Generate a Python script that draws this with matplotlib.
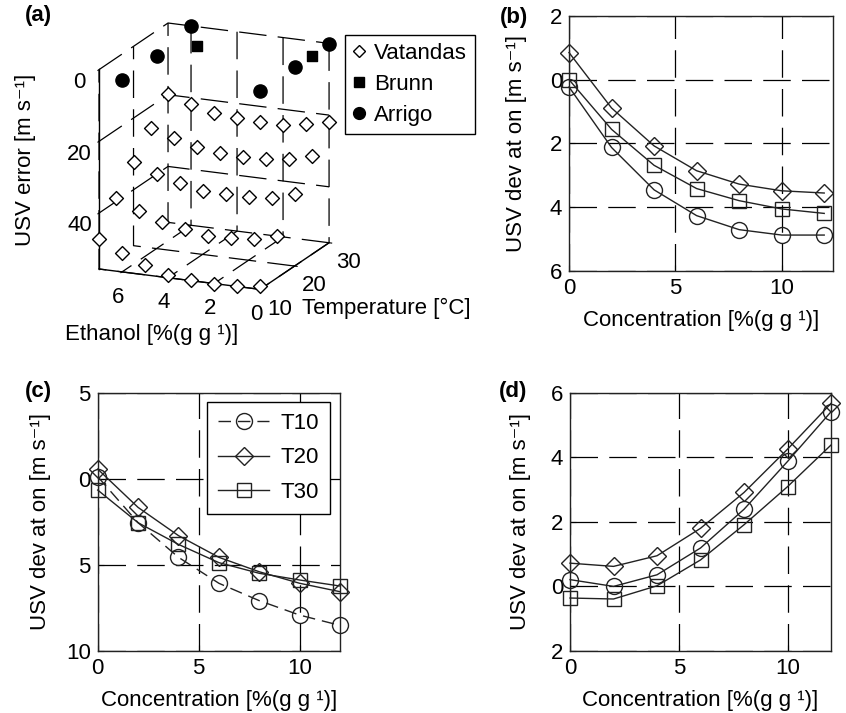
import matplotlib
matplotlib.use('Agg')
import matplotlib.pyplot as plt
from matplotlib.ticker import FuncFormatter

plt.rcParams['font.family'] = ['Liberation Sans', 'DejaVu Sans']
plt.rcParams['font.size'] = 16
plt.rcParams['grid.color'] = 'k'
plt.rcParams['grid.linestyle'] = (0, (22, 9))
plt.rcParams['grid.linewidth'] = 0.9
plt.rcParams['axes.linewidth'] = 1.0

# ---- panel (a): USV error of the models, ethanol x temperature
ethanol = [0, 1, 2, 3, 4, 5, 6, 7]
temps = [10, 15, 20, 25, 30]
vat_err = [
    [54.7, 55.4, 55.6, 55.5, 54.8, 52.8, 50.4, 47.1],   # 10 C
    [44.0, 45.5, 46.1, 46.4, 45.2, 44.0, 41.9, 39.0],   # 15 C
    [35.5, 37.4, 38.1, 38.0, 37.9, 36.5, 34.8, 32.2],   # 20 C
    [28.1, 29.9, 30.5, 30.8, 30.5, 29.7, 28.0, 26.1],   # 25 C
    [22.0, 23.4, 24.3, 24.4, 24.0, 23.6, 21.9, 19.8],   # 30 C
]
brunn_eth = [5, 0]
brunn_t = [25, 25]
brunn_err = [1.4, 0.2]
arrigo_eth = [6, 6, 6, 0, 0, 0]
arrigo_t = [10, 20, 30, 10, 20, 30]
arrigo_err = [2.0, 1.8, 0.0, 0.3, 0.0, 0.1]

# ---- panels (b)-(d): USV deviation vs concentration
conc = [0, 2, 4, 6, 8, 10, 12]
b_t10 = [-0.23, -2.13, -3.46, -4.27, -4.71, -4.88, -4.88]
b_t20 = [0.85, -0.89, -2.08, -2.86, -3.28, -3.49, -3.56]
b_t30 = [0.0, -1.56, -2.69, -3.42, -3.80, -4.06, -4.20]
c_t10 = [0.12, -2.56, -4.57, -6.08, -7.09, -7.93, -8.53]
c_t20 = [0.56, -1.67, -3.31, -4.57, -5.41, -6.08, -6.57]
c_t30 = [-0.66, -2.56, -3.82, -4.88, -5.50, -5.89, -6.24]
d_t10 = [0.21, 0.0, 0.36, 1.19, 2.39, 3.87, 5.41]
d_t20 = [0.72, 0.62, 0.95, 1.80, 2.91, 4.25, 5.67]
d_t30 = [-0.36, -0.39, 0.02, 0.82, 1.91, 3.09, 4.38]

absfmt = FuncFormatter(lambda v, p: '%g' % abs(v))
ylab = 'USV dev at on [m s\u207b\u00b9]'
xlab = 'Concentration [%(g g \u00b9)]'
FS = 16

fig = plt.figure(figsize=(8.46, 7.13), dpi=100)

# (a) 3D
ax = fig.add_axes([0.008, 0.555, 0.48, 0.44], projection='3d')
ax.set_proj_type('ortho')
ax.view_init(elev=17, azim=-156.6)
ax.set_box_aspect((1, 1.01, 1.2))
for i, t in enumerate(temps):
    ax.scatter([t] * len(ethanol), ethanol, [-v for v in vat_err[i]], marker='D',
               s=50, facecolors='white', edgecolors='k', linewidths=1,
               depthshade=False)
ax.scatter(brunn_t, brunn_eth, [-v for v in brunn_err], marker='s', s=55,
           c='k', depthshade=False)
ax.scatter(arrigo_t, arrigo_eth, [-v for v in arrigo_err], marker='o', s=90,
           c='k', depthshade=False)
ax.set_xlim(10, 30)
ax.set_ylim(0, 7)
ax.set_zlim(-55.6, 0)
ax.set_xticks([10, 20, 30])
ax.set_yticks([0, 2, 4, 6])
ax.set_zticks([-40, -20, 0])
ax.zaxis.set_major_formatter(absfmt)
for a in (ax.xaxis, ax.yaxis, ax.zaxis):
    a.set_pane_color((1, 1, 1, 0))
    a.pane.set_edgecolor('k')
    a.line.set_color('k')
ax.tick_params(pad=2, labelsize=FS)
ax.tick_params(axis='x', pad=-3)
ax.tick_params(axis='y', pad=-1)
for lbl in ax.get_xticklabels():
    lbl.set_ha('left')

# legend of (a)
hv = plt.Line2D([], [], ls='none', marker='D', ms=6.5, mfc='white', mec='k')
hb = plt.Line2D([], [], ls='none', marker='s', ms=7.5, color='k')
ha = plt.Line2D([], [], ls='none', marker='o', ms=8.5, color='k')
fig.legend([hv, hb, ha], ['Vatandas', 'Brunn', 'Arrigo'],
           loc='upper left', bbox_to_anchor=(345 / 846, 1 - 35 / 713),
           borderaxespad=0, fancybox=False, edgecolor='k', framealpha=1,
           handlelength=0.6, handletextpad=0.35, borderpad=0.35,
           labelspacing=0.45, fontsize=FS)
fig.text(25 / 846, 1 - 160 / 713, 'USV error [m s\u207b\u00b9]', rotation=90,
         ha='center', va='center', fontsize=FS)
fig.text(152 / 846, 1 - 335 / 713, 'Ethanol [%(g g \u00b9)]', ha='center',
         va='center', fontsize=FS)
fig.text(302 / 846, 1 - 308 / 713, 'Temperature [\u00b0C]', ha='left',
         va='center', fontsize=FS)


def curve_panel(rect, t10, t20, t30, ylim, yticks, t10_ls='-', xmax=12,
                ypad=16):
    a = fig.add_axes(rect)
    style = dict(color='#222222', lw=1.0, mfc='none', mec='#222222', mew=1.0,
                 clip_on=False)
    l1, = a.plot(conc, t10, ls=t10_ls, marker='o', ms=11.5, **style)
    l2, = a.plot(conc, t20, ls='-', marker='D', ms=9.5, **style)
    l3, = a.plot(conc, t30, ls='-', marker='s', ms=10, **style)
    a.set_xlim(0, xmax)
    a.set_ylim(*ylim)
    a.set_xticks([0, 5, 10])
    a.set_yticks(yticks)
    a.yaxis.set_major_formatter(absfmt)
    a.grid(True)
    a.tick_params(direction='in', length=4, pad=5, labelsize=FS)
    a.set_xlabel(xlab, fontsize=FS, labelpad=8)
    a.set_ylabel(ylab, fontsize=FS, labelpad=ypad)
    for s in a.spines.values():
        s.set_color('#222222')
    return a, (l1, l2, l3)


axb, _ = curve_panel([0.6726, 0.6203, 0.3117, 0.3573], b_t10, b_t20, b_t30,
                     (-6, 2), [-6, -4, -2, 0, 2], xmax=12.4)
axc, lines = curve_panel([0.1155, 0.0874, 0.2864, 0.3618], c_t10, c_t20, c_t30,
                         (-10, 5), [-10, -5, 0, 5], t10_ls=(0, (9, 5)), ypad=11)
axd, _ = curve_panel([0.6738, 0.0870, 0.3085, 0.3622], d_t10, d_t20, d_t30,
                     (-2, 6), [-2, 0, 2, 4, 6], ypad=14)
axc.legend(lines, ['T10', 'T20', 'T30'], loc='upper right',
           bbox_to_anchor=(0.959, 0.964), borderaxespad=0, fancybox=False,
           edgecolor='k', framealpha=1, handlelength=2.3, borderpad=0.5,
           labelspacing=0.6, handletextpad=0.5, fontsize=FS)

for x, y, s in [(38, 16, '(a)'), (514, 17, '(b)'), (38, 392, '(c)'),
                (513, 392, '(d)')]:
    fig.text(x / 846, 1 - y / 713, s, ha='center', va='center',
             fontsize=FS, fontweight='bold')

fig.savefig('out.png', dpi=100)
